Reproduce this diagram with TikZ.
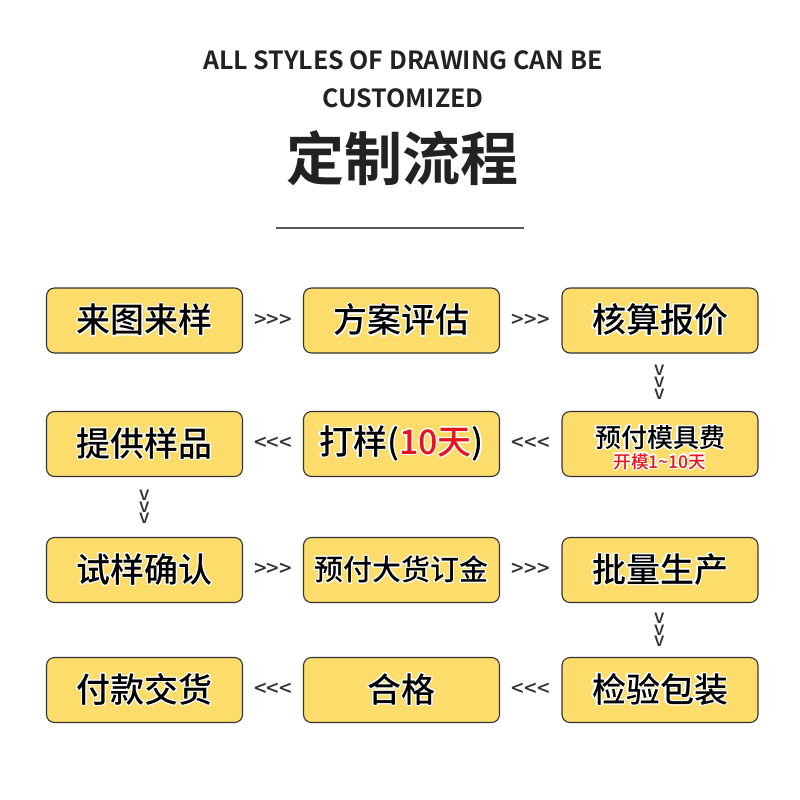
\documentclass[tikz,border=0pt]{standalone}
\usepackage{fontspec}
\setmainfont{Noto Sans CJK SC}[UprightFont={* Medium}, BoldFont={* Bold}]
\usepackage{contour}
\contourlength{1.2pt}
\definecolor{boxfill}{HTML}{FCDD6C}
\definecolor{boxline}{HTML}{333333}
\definecolor{txtred}{HTML}{E5141E}
\definecolor{titlegray}{HTML}{222222}
\newcommand{\ol}[1]{\contour{white}{#1}}
\begin{document}
\begin{tikzpicture}[x=1pt,y=-1pt,
  stepbox/.style={draw=boxline, line width=1.1pt, fill=boxfill, rounded corners=8pt,
    minimum width=196pt, minimum height=65pt, inner sep=0pt, text=black,
    font=\fontsize{34}{34}\selectfont},
  harrow/.style={font=\fontsize{22}{22}\selectfont, text=boxline, inner sep=0pt},
  varrow/.style={font=\fontsize{19}{11.7}\selectfont, text=boxline, align=center, inner sep=0pt}]
\useasboundingbox (0,0) rectangle (800,800);
\fill[white] (0,0) rectangle (800,800);
% titles
\node[font=\bfseries\fontsize{25}{25}\selectfont, text=titlegray] (t1) at (403,60) {ALL STYLES OF DRAWING CAN BE};
\node[font=\bfseries\fontsize{25}{25}\selectfont, text=titlegray] (t2) at (403,98) {CUSTOMIZED};
\node[font=\bfseries\fontsize{58}{58}\selectfont, text=titlegray] (t3) at (402,158) {定制流程};
\coordinate (la) at (276,228);
\coordinate (lb) at (524,228);
\draw[line width=1.3pt, draw=black!65] (la) -- (lb);
% boxes
\node[stepbox] (a1) at (144.5,320.5) {\ol{来图来样}};
\node[stepbox] (a2) at (401.5,320.5) {\ol{方案评估}};
\node[stepbox] (a3) at (660,320.5) {\ol{核算报价}};
\node[stepbox] (b3) at (660,444) {};
\node[font=\fontsize{26}{26}\selectfont] (b3t) at (660,438) {\ol{预付模具费}};
\node[font=\fontsize{17.5}{17.5}\selectfont, text=txtred] (b3s) at (660,462) {\ol{开模1\textasciitilde10天}};
\node[stepbox] (b2) at (401.5,444) {\ol{打样(}{\color{txtred}\ol{10天}}\ol{)}};
\node[stepbox] (b1) at (144.5,444) {\ol{提供样品}};
\node[stepbox] (c1) at (144.5,570) {\ol{试样确认}};
\node[stepbox, font=\fontsize{29}{29}\selectfont] (c2) at (401.5,570) {\ol{预付大货订金}};
\node[stepbox] (c3) at (660,570) {\ol{批量生产}};
\node[stepbox] (d3) at (660,690) {\ol{检验包装}};
\node[stepbox] (d2) at (401.5,690) {\ol{合格}};
\node[stepbox] (d1) at (144.5,690) {\ol{付款交货}};
% connectors
\path (a1) -- (a2) node[harrow, midway] (k1) {{>}{>}{>}};
\path (a2) -- (a3) node[harrow, midway] (k2) {{>}{>}{>}};
\path (a3) -- (b3) node[varrow, midway] (k3) {v\\v\\v};
\path (b3) -- (b2) node[harrow, midway] (k4) {{<}{<}{<}};
\path (b2) -- (b1) node[harrow, midway] (k5) {{<}{<}{<}};
\path (b1) -- (c1) node[varrow, midway] (k6) {v\\v\\v};
\path (c1) -- (c2) node[harrow, midway] (k7) {{>}{>}{>}};
\path (c2) -- (c3) node[harrow, midway] (k8) {{>}{>}{>}};
\path (c3) -- (d3) node[varrow, midway] (k9) {v\\v\\v};
\path (d3) -- (d2) node[harrow, midway] (k10) {{<}{<}{<}};
\path (d2) -- (d1) node[harrow, midway] (k11) {{<}{<}{<}};
\end{tikzpicture}
\end{document}
